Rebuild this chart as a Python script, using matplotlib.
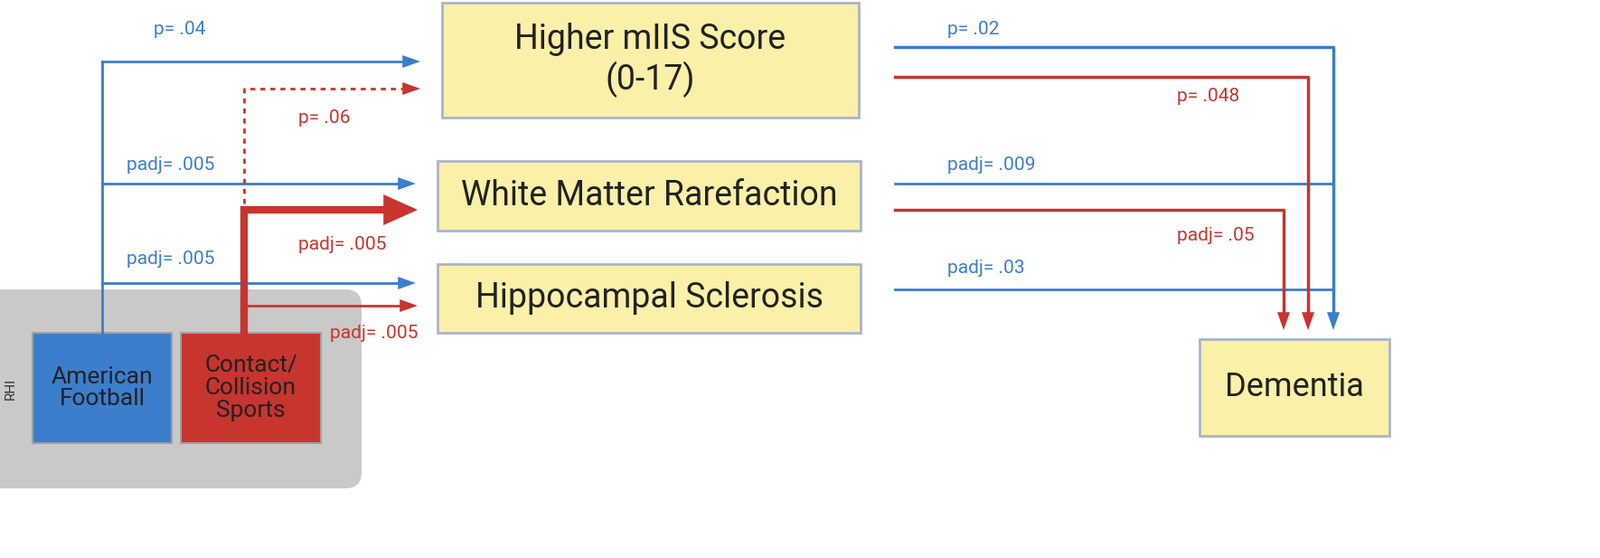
import matplotlib
matplotlib.use("Agg")
import matplotlib.pyplot as plt
from matplotlib.patches import FancyBboxPatch, Rectangle, Polygon
plt.rcParams["font.family"] = "Roboto"

BLUE = "#3b7ecb"
RED = "#c8342e"
YEL = "#fbf0a8"

# Data: mediator boxes, exposure boxes, path labels
mediators = ["Higher mIIS Score\n(0-17)", "White Matter Rarefaction", "Hippocampal Sclerosis"]
exposures = ["American\nFootball", "Contact/\nCollision\nSports"]
outcome = "Dementia"
left_labels = [("p= .04", BLUE), ("p= .06", RED), ("padj= .005", BLUE), ("padj= .005", BLUE),
               ("padj= .005", RED), ("padj= .005", RED)]
right_labels = [("p= .02", BLUE), ("p= .048", RED), ("padj= .009", BLUE), ("padj= .05", RED), ("padj= .03", BLUE)]

fig = plt.figure(figsize=(17.7, 6.17), dpi=100)
ax = fig.add_axes([0, 0, 1, 1])
ax.set_xlim(0, 1770); ax.set_ylim(617, 0); ax.axis("off")

ax.add_patch(FancyBboxPatch((-20, 320), 420, 220, boxstyle="round,pad=0,rounding_size=18",
                            fc="#c9c9c9", ec="none"))
ax.text(12, 430, "RHI", rotation=90, ha="center", va="center", fontsize=11, color="#333")
for (x0, x1), col, t in zip([(36, 190), (200, 355)], [BLUE, RED], exposures):
    ax.add_patch(Rectangle((x0, 368), x1 - x0, 122, fc=col, ec="#a0a0a0", lw=1.5))
    ax.text((x0 + x1) / 2, 429, t, ha="center", va="center", fontsize=19, color="#222", linespacing=1.05)

boxes = [(489, 3, 950, 130), (484, 178, 952, 255), (484, 292, 952, 368)]
for (x0, y0, x1, y1), t in zip(boxes, mediators):
    ax.add_patch(Rectangle((x0, y0), x1 - x0, y1 - y0, fc=YEL, ec="#a9b4cc", lw=2))
    ax.text((x0 + x1) / 2, (y0 + y1) / 2, t, ha="center", va="center", fontsize=27, color="#222", linespacing=1.2)
ax.add_patch(Rectangle((1327, 375), 210, 107, fc=YEL, ec="#a9b4cc", lw=2))
ax.text(1432, 428, outcome, ha="center", va="center", fontsize=26, color="#222")

def head(x, y, d, col, size=11, w=7):
    if d == "r":
        pts = [(x, y), (x - size * 1.8, y - w), (x - size * 1.8, y + w)]
    else:
        pts = [(x, y), (x - w, y - size * 1.8), (x + w, y - size * 1.8)]
    ax.add_patch(Polygon(pts, closed=True, fc=col, ec="none"))

# left blue
ax.plot([113, 113], [368, 68], color=BLUE, lw=2)
for y, xe in [(68, 465), (203, 460), (313, 460)]:
    ax.plot([113, xe - 15], [y, y], color=BLUE, lw=2); head(xe, y, "r", BLUE)
# red thick
ax.plot([270, 270, 425], [365, 232, 232], color=RED, lw=6, solid_joinstyle="miter")
head(462, 232, "r", RED, size=21, w=17)
# red dotted
ax.plot([270, 270, 445], [225, 98, 98], color=RED, lw=2, ls=(0, (2, 2)))
head(465, 98, "r", RED)
# red thin
ax.plot([270, 445], [338, 338], color=RED, lw=2); head(462, 338, "r", RED)

# right side
ax.plot([990, 1475, 1475], [52, 52, 345], color=BLUE, lw=2.5); head(1475, 365, "d", BLUE)
ax.plot([990, 1475], [203, 203], color=BLUE, lw=2)
ax.plot([990, 1475], [320, 320], color=BLUE, lw=2)
ax.plot([990, 1447, 1447], [85, 85, 345], color=RED, lw=2.5); head(1447, 365, "d", RED)
ax.plot([990, 1420, 1420], [232, 232, 345], color=RED, lw=2.5); head(1420, 365, "d", RED)

lpos = [(170, 32), (330, 130), (140, 183), (140, 287), (330, 270), (365, 368)]
for (x, y), (t, c) in zip(lpos, left_labels):
    ax.text(x, y, t, color=c, fontsize=15, ha="left", va="center")
rpos = [(1048, 32), (1302, 107), (1048, 182), (1302, 260), (1048, 296)]
for (x, y), (t, c) in zip(rpos, right_labels):
    ax.text(x, y, t, color=c, fontsize=15, ha="left", va="center")

fig.savefig("out.png", dpi=100)
